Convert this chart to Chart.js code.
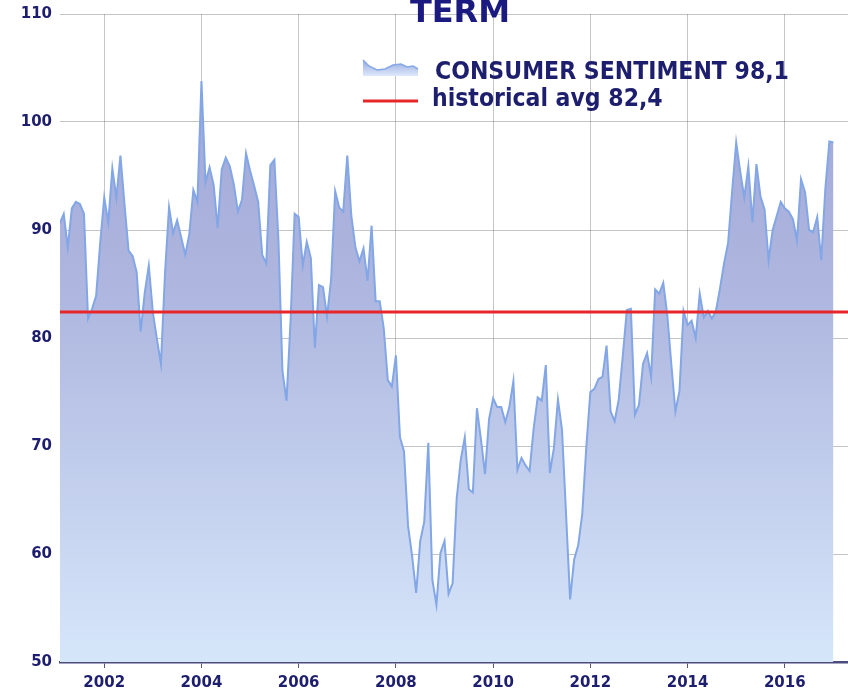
<!DOCTYPE html>
<html><head><meta charset="utf-8">
<script src="https://cdn.jsdelivr.net/npm/chart.js@4.4.1/dist/chart.umd.min.js"></script>
<style>html,body{margin:0;padding:0;background:#fff;}#wrap{width:848px;height:694px;position:relative;}</style>
</head><body><div id="wrap"><canvas id="c" width="848" height="694"></canvas></div>
<script>
const titleText = 'TERM';
const seriesLabel = 'CONSUMER SENTIMENT 98,1';
const avgLabel = 'historical avg 82,4';
const startYear = 2001;
// monthly consumer sentiment, Jan 2001 .. Jan 2017
const sentiment = [
  94.7, 90.6, 91.5, 88.4, 92.0, 92.6, 92.4, 91.5, 81.8, 82.7, 83.9, 88.8,
  93.0, 90.7, 95.7, 93.0, 96.9, 92.4, 88.1, 87.6, 86.1, 80.6, 84.2, 86.7,
  82.4, 79.9, 77.6, 86.0, 92.1, 89.7, 90.9, 89.3, 87.7, 89.6, 93.7, 92.6,
  103.8, 94.4, 95.8, 94.2, 90.2, 95.6, 96.7, 95.9, 94.2, 91.7, 92.8, 97.1,
  95.5, 94.1, 92.6, 87.7, 86.9, 96.0, 96.5, 89.1, 76.9, 74.2, 81.6, 91.5,
  91.2, 86.7, 88.9, 87.4, 79.1, 84.9, 84.7, 82.0, 85.4, 93.6, 92.1, 91.7,
  96.9, 91.3, 88.4, 87.1, 88.3, 85.3, 90.4, 83.4, 83.4, 80.9, 76.1, 75.5,
  78.4, 70.8, 69.5, 62.6, 59.8, 56.4, 61.2, 63.0, 70.3, 57.6, 55.3, 60.1,
  61.2, 56.3, 57.3, 65.1, 68.7, 70.8, 66.0, 65.7, 73.5, 70.6, 67.4, 72.5,
  74.4, 73.6, 73.6, 72.2, 73.6, 76.0, 67.8, 68.9, 68.2, 67.7, 71.6, 74.5,
  74.2, 77.5, 67.5, 69.8, 74.3, 71.5, 63.7, 55.8, 59.5, 60.8, 63.7, 69.9,
  75.0, 75.3, 76.2, 76.4, 79.3, 73.2, 72.3, 74.3, 78.3, 82.6, 82.7, 72.9,
  73.8, 77.6, 78.6, 76.4, 84.5, 84.1, 85.1, 82.1, 77.5, 73.2, 75.1, 82.5,
  81.2, 81.6, 80.0, 84.1, 81.9, 82.5, 81.8, 82.5, 84.6, 86.9, 88.8, 93.6,
  98.1, 95.4, 93.0, 95.9, 90.7, 96.1, 93.1, 91.9, 87.2, 90.0, 91.3, 92.6,
  92.0, 91.7, 91.0, 89.0, 94.7, 93.5, 90.0, 89.8, 91.2, 87.2, 93.8, 98.2,
  98.1
];
const historicalAvg = 82.4;
const xTickYears = [2002, 2004, 2006, 2008, 2010, 2012, 2014, 2016];
const yTickValues = [50, 60, 70, 80, 90, 100, 110];
const xRange = [2001.09, 2017.3];

const navy = '#1e1e6e';
const sentimentPoints = sentiment.map((v, i) => ({x: startYear + i / 12, y: v}));
const avgPoints = [{x: xRange[0], y: historicalAvg}, {x: xRange[1], y: historicalAvg}];

function areaGradient(ctx, area) {
  const g = ctx.createLinearGradient(0, area.top, 0, area.bottom);
  g.addColorStop(0, '#9fa2d3');
  g.addColorStop(0.45, '#afb8e0');
  g.addColorStop(1, '#d6e6fa');
  return g;
}

const overlay = {
  id: 'overlay',
  afterDraw(chart) {
    const ctx = chart.ctx;
    ctx.save();
    // title (cut off at the top)
    ctx.fillStyle = '#1a1a80';
    ctx.font = 'bold 32px "DejaVu Sans"';
    ctx.textAlign = 'center';
    ctx.textBaseline = 'alphabetic';
    ctx.fillText(titleText, 460, 22);
    // legend icon: small filled mountain
    const ix = 363, iw = 55;
    const pts = [[0, 60], [6, 66], [14, 70], [22, 69], [30, 65], [38, 64], [44, 67], [50, 66], [55, 69]];
    const g = ctx.createLinearGradient(0, 60, 0, 76);
    g.addColorStop(0, '#93a8df');
    g.addColorStop(1, '#dfe9fb');
    ctx.beginPath();
    pts.forEach((p, i) => i ? ctx.lineTo(ix + p[0], p[1]) : ctx.moveTo(ix + p[0], p[1]));
    ctx.lineTo(ix + iw, 76);
    ctx.lineTo(ix, 76);
    ctx.closePath();
    ctx.fillStyle = g;
    ctx.fill();
    ctx.strokeStyle = '#86a8e6';
    ctx.lineWidth = 1.5;
    ctx.beginPath();
    pts.forEach((p, i) => i ? ctx.lineTo(ix + p[0], p[1]) : ctx.moveTo(ix + p[0], p[1]));
    ctx.stroke();
    ctx.strokeStyle = '#e8262a';
    ctx.lineWidth = 3;
    ctx.beginPath();
    ctx.moveTo(ix, 101);
    ctx.lineTo(ix + iw, 101);
    ctx.stroke();
    ctx.fillStyle = navy;
    ctx.textAlign = 'left';
    ctx.font = 'bold 24.5px "DejaVu Sans Condensed"';
    ctx.fillText(seriesLabel, 435, 79);
    ctx.fillText(avgLabel, 432, 106);
    ctx.restore();
  }
};

new Chart(document.getElementById('c'), {
  type: 'line',
  data: {
    datasets: [
      {
        label: avgLabel,
        data: avgPoints,
        borderColor: '#e8262a',
        borderWidth: 3,
        pointRadius: 0,
        fill: false,
        order: 0
      },
      {
        label: seriesLabel,
        data: sentimentPoints,
        borderColor: '#82a6e6',
        borderWidth: 2,
        pointRadius: 0,
        tension: 0,
        fill: 'start',
        backgroundColor: (c) => {
          const a = c.chart.chartArea;
          if (!a) return '#b0b8e0';
          return areaGradient(c.chart.ctx, a);
        },
        order: 1
      }
    ]
  },
  options: {
    responsive: false,
    devicePixelRatio: 1,
    animation: false,
    layout: {padding: {top: 14, right: 0, left: 0, bottom: 0}},
    plugins: {legend: {display: false}, tooltip: {enabled: false}, title: {display: false}},
    scales: {
      x: {
        type: 'linear',
        min: xRange[0],
        max: xRange[1],
        afterBuildTicks: (s) => { s.ticks = xTickYears.map(v => ({value: v})); },
        afterFit: (s) => { s.height = 32; s.paddingLeft = 0; s.paddingRight = 0; },
        ticks: {
          callback: (v) => String(v),
          color: navy,
          font: {family: 'DejaVu Sans', weight: 'bold', size: 15},
          padding: 6,
          maxRotation: 0,
          autoSkip: false
        },
        grid: {color: 'rgba(125,125,135,0.45)', tickColor: '#55557f', tickLength: 6, lineWidth: 1},
        border: {display: true, color: '#4b4b7d', width: 2.5}
      },
      y: {
        min: 50,
        max: 110,
        afterBuildTicks: (s) => { s.ticks = yTickValues.map(v => ({value: v})); },
        afterFit: (s) => { s.width = 60; s.paddingTop = 0; s.paddingBottom = 0; },
        ticks: {
          color: navy,
          font: {family: 'DejaVu Sans', weight: 'bold', size: 15},
          padding: 8
        },
        grid: {color: 'rgba(125,125,125,0.45)', drawTicks: false, lineWidth: 1},
        border: {display: false}
      }
    }
  },
  plugins: [overlay]
});
</script></body></html>
